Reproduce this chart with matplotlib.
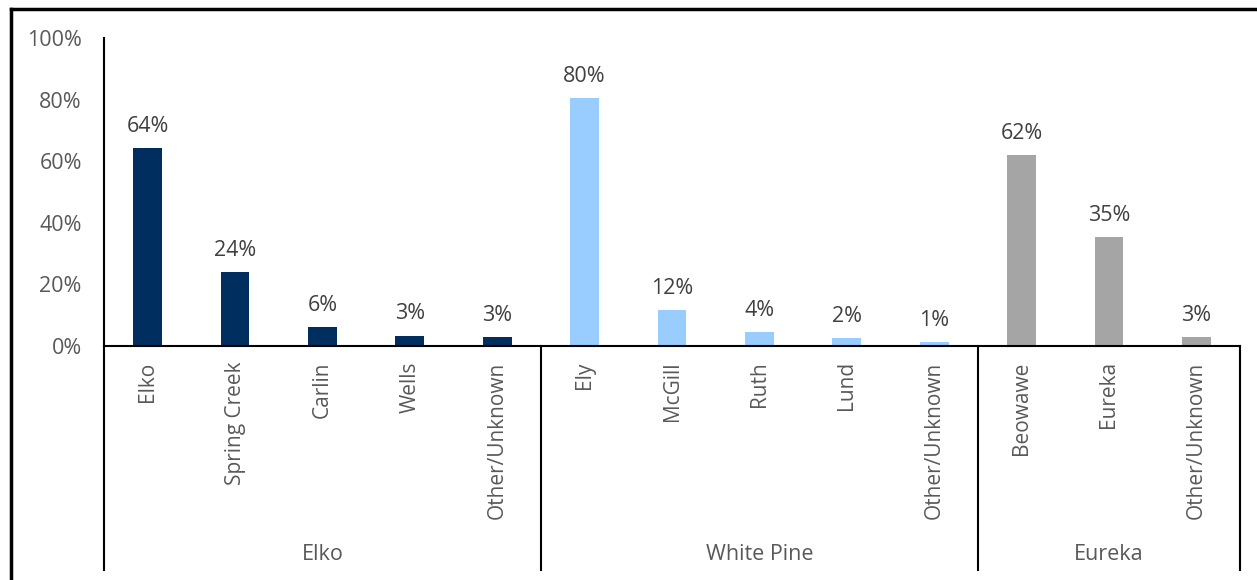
import matplotlib.pyplot as plt
from matplotlib.lines import Line2D

plt.rcParams['font.family'] = ['Open Sans', 'DejaVu Sans']

# counties and the places within each one
counties = ['Elko', 'White Pine', 'Eureka']
places = [
    ['Elko', 'Spring Creek', 'Carlin', 'Wells', 'Other/Unknown'],
    ['Ely', 'McGill', 'Ruth', 'Lund', 'Other/Unknown'],
    ['Beowawe', 'Eureka', 'Other/Unknown'],
]
shares = [
    [64.4, 24.1, 6.1, 3.4, 2.9],
    [80.4, 11.8, 4.4, 2.5, 1.3],
    [62.1, 35.4, 3.0],
]
colors = ['#002F5F', '#99CCFF', '#A5A5A5']

fig = plt.figure(figsize=(12.57, 5.8), dpi=100)
ax = fig.add_axes([104 / 1257, 1 - 346 / 580, (1240 - 104) / 1257, 308 / 580])

pos = 0
bounds = [-0.5]
for county, names, vals, col in zip(counties, places, shares, colors):
    xs = list(range(pos, pos + len(names)))
    bars = ax.bar(xs, vals, width=0.33, color=col, zorder=2)
    ax.bar_label(bars, labels=[f'{v:.0f}%' for v in vals], padding=8,
                 fontsize=15.5, color='#404040')
    for x, name in zip(xs, names):
        ax.annotate(name, xy=(x, 0), xycoords=('data', 'axes fraction'),
                    xytext=(0, -11), textcoords='offset points',
                    rotation=90, ha='center', va='top',
                    fontsize=15, color='#595959')
    mid = (xs[0] + xs[-1]) / 2
    ax.annotate(county, xy=(mid, 0), xycoords=('data', 'axes fraction'),
                xytext=(0, -150), textcoords='offset points',
                ha='center', va='center', fontsize=15.5, color='#595959')
    pos += len(names)
    bounds.append(pos - 0.5)

# group separators below the category axis
for b in bounds:
    ax.add_line(Line2D([b, b], [0, -224 / 308], color='black', lw=1.5,
                       transform=ax.get_xaxis_transform(), clip_on=False))

ax.set_xlim(-0.5, pos - 0.5)
ax.set_ylim(0, 100)
ax.set_yticks(range(0, 101, 20))
ax.set_yticklabels([f'{t}%' for t in range(0, 101, 20)])
ax.tick_params(axis='y', length=0, pad=16, labelsize=15.5, labelcolor='#595959')
ax.set_xticks([])
for s in ['top', 'right']:
    ax.spines[s].set_visible(False)
ax.spines['left'].set_linewidth(1.5)
ax.spines['bottom'].set_linewidth(1.5)

# outer frame along the top and left edges
fig.add_artist(Line2D([11 / 1257, 1], [1 - 9 / 580, 1 - 9 / 580], color='black', lw=2.5))
fig.add_artist(Line2D([11 / 1257, 11 / 1257], [0, 1 - 9 / 580], color='black', lw=2.5))

fig.savefig('out.png', dpi=100)
